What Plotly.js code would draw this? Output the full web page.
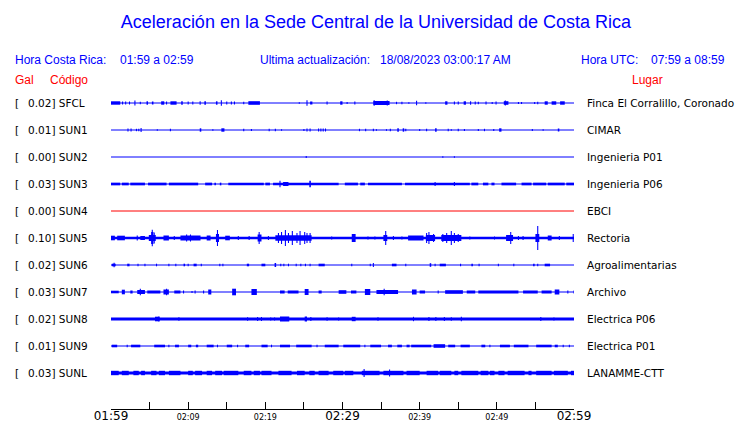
<!DOCTYPE html>
<html><head><meta charset="utf-8">
<script src="https://cdn.plot.ly/plotly-3.0.1.min.js"></script>
<style>html,body{margin:0;padding:0;background:#fff}#chart{width:740px;height:423px}</style>
</head><body><div id="chart"></div>
<script>
// ---------- data ----------
const codes = ['SFCL','SUN1','SUN2','SUN3','SUN4','SUN5','SUN6','SUN7','SUN8','SUN9','SUNL'];
const galMax = ['0.02','0.01','0.00','0.03','0.00','0.10','0.02','0.03','0.02','0.01','0.03'];
const places = ['Finca El Corralillo, Coronado','CIMAR','Ingenieria P01','Ingenieria P06','EBCI','Rectoria','Agroalimentarias','Archivo','Electrica P06','Electrica P01','LANAMME-CTT'];
const tickMinutes = [0,5,10,15,20,25,30,35,40,45,50,55,60];
const tickLabels = ['01:59','','02:09','','02:19','','02:29','','02:39','','02:49','','02:59'];
// background noise half-amplitude of each record (relative units)
const noise = [0.5,0.5,0.5,0.5,0.4,1.35,0.5,0.55,1.45,0.5,1.6];
// bursts: [start minute, end minute, half-amplitude]
const ev_SFCL = [[0,1.2,1.7],[1.5,1.5,1.5],[1.9,1.9,1.5],[2.4,2.4,1.5],[3.1,3.1,2.5],[3.8,3.8,1.2],[4.6,4.8,1.7],[5.3,5.5,1.5],[6.5,6.9,1.7],[7.2,7.2,1.5],[7.7,8.5,1.7],[9.1,9.3,1.7],[10.0,10.0,1.5],[10.6,10.6,1.5],[11.5,11.6,1.7],[12.1,12.3,1.7],[13.6,13.8,1.7],[14.3,14.3,2.7],[15.0,15.0,1.5],[15.6,15.6,1.5],[16.0,16.0,1.5],[17.2,17.2,1.2],[17.8,19.3,1.8],[24.4,24.4,0.7],[25.4,25.4,2.7],[25.8,26.1,1.5],[28.0,28.0,1.5],[29.7,30.0,1.7],[30.6,30.6,1.0],[31.6,31.6,1.5],[34.0,36.1,2.0],[34.1,34.1,2.8],[35.8,35.8,2.5],[37.0,37.0,1.2],[37.7,37.7,1.2],[38.6,38.6,0.8],[39.6,39.6,2.3],[40.8,40.8,0.8],[43.3,43.6,1.7],[44.5,44.5,1.5],[45.0,45.0,1.5],[45.7,46.0,1.7],[46.6,46.6,1.7],[47.2,47.2,1.5],[47.6,47.6,1.2],[48.6,48.6,1.5],[49.4,49.4,1.0],[49.9,49.9,1.5],[50.9,51.5,1.8],[51.1,51.1,2.5],[52.8,52.8,1.0],[53.2,53.2,1.0],[54.9,54.9,1.0],[55.3,55.3,1.3],[56.2,56.6,1.7],[57.1,57.7,1.7],[58.2,58.8,1.7]];
const ev_SUN1 = [[2.2,2.2,1.5],[2.6,2.6,1.5],[3.3,3.3,1.2],[3.6,3.6,1.2],[3.9,3.9,2.0],[6.0,6.0,0.8],[7.7,7.7,1.2],[11.5,11.7,1.7],[13.2,13.2,0.8],[14.3,14.7,1.7],[17.2,17.2,1.3],[18.2,18.2,1.0],[20.5,20.5,1.2],[21.3,21.3,1.2],[22.1,22.1,0.8],[25.0,25.0,1.0],[25.4,25.4,1.5],[25.8,25.8,1.5],[26.9,26.9,1.5],[27.2,27.2,1.5],[27.5,27.5,1.5],[27.8,27.8,1.5],[32.2,32.2,1.2],[33.0,33.0,1.2],[34.0,34.0,1.2],[34.4,34.4,0.8],[35.7,35.7,0.8],[36.2,36.2,1.2],[37.1,37.3,1.7],[37.8,38.0,1.7],[38.2,38.2,1.2],[40.0,40.0,1.0],[40.9,40.9,1.2],[42.0,42.2,1.7],[43.7,43.7,1.2],[44.1,44.1,0.8],[45.0,45.0,1.2],[45.8,45.8,1.0],[47.6,47.6,1.0],[48.4,48.4,1.2],[49.6,49.6,1.0],[50.3,50.6,1.7],[54.6,54.6,1.0],[56.0,56.0,0.8],[57.9,58.1,1.5]];
const ev_SUN2 = [[25.3,25.3,1.0],[43.0,43.0,0.7],[44.5,44.5,0.7]];
const ev_SUN3 = [[0,1.2,1.35],[1.4,2.3,1.35],[2.5,4.4,1.35],[4.8,7.2,1.35],[7.5,11.3,1.35],[12.2,13.1,1.35],[13.4,13.6,1.35],[14.1,14.3,1.35],[15.2,19.8,1.35],[20.0,20.6,1.35],[21.0,29.5,1.35],[21.9,21.9,3.3],[22.3,23.0,2.0],[25.7,25.9,3.3],[30.3,32.0,1.35],[32.3,32.9,1.35],[33.3,37.7,1.35],[38.1,46.5,1.35],[42.0,42.0,2.0],[44.5,44.5,2.0],[46.7,47.6,1.35],[48.2,48.9,1.35],[49.3,49.7,1.35],[50.6,52.5,1.35],[53.2,54.5,1.35],[54.7,56.4,1.35],[56.6,58.8,1.35],[59.0,60.0,1.35]];
const ev_SUN4 = [];
const ev_SUN5 = [[0,0.5,2.3],[0.8,1.8,2.3],[3.4,3.4,2.5],[3.8,4.4,2.0],[4.9,5.8,3.0],[5.2,5.5,6.0],[5.35,5.35,8.3],[5.6,5.6,5.5],[6.8,7.5,2.5],[8.2,8.2,2.0],[9.0,11.6,2.5],[9.8,9.8,3.5],[10.3,10.3,3.5],[12.4,12.9,2.5],[13.6,14.0,4.0],[13.8,13.8,8.0],[14.8,15.4,2.3],[16.5,16.5,2.0],[17.9,17.9,2.0],[19.0,19.5,3.5],[19.2,19.2,6.0],[20.4,20.4,2.0],[21.3,26.0,2.8],[21.7,21.7,5.0],[22.1,22.1,6.0],[22.6,22.6,8.0],[23.0,23.0,5.0],[23.5,23.5,7.0],[24.1,24.1,5.0],[24.5,24.5,7.0],[25.1,25.1,6.0],[25.4,25.4,5.0],[25.8,25.8,5.0],[28.6,28.6,1.5],[31.2,31.7,4.0],[33.3,33.3,1.5],[34.2,34.2,1.5],[35.3,35.8,3.0],[35.6,35.6,7.0],[36.6,36.6,2.0],[37.7,37.7,1.5],[38.5,40.5,2.5],[40.8,42.0,3.0],[40.9,40.9,5.0],[41.2,41.2,6.0],[41.8,41.8,4.0],[42.8,45.4,3.0],[43.0,43.0,4.0],[43.5,43.5,5.0],[44.1,44.1,7.0],[44.5,44.5,5.0],[45.0,45.0,4.0],[46.5,46.5,1.5],[49.7,49.7,1.5],[51.2,52.1,3.0],[51.8,51.8,6.0],[52.8,52.8,2.0],[53.4,53.4,2.0],[55.0,55.5,4.0],[55.3,55.3,12.0],[56.6,57.1,2.5],[58.1,58.1,2.0],[59.9,59.9,4.0]];
const ev_SUN6 = [[0.1,0.6,1.3],[0.4,0.4,2.3],[2.1,2.4,1.3],[3.5,3.5,1.3],[4.4,4.4,1.3],[5.9,5.9,1.3],[7.5,7.5,1.3],[8.4,8.4,1.3],[9.4,9.6,1.3],[10.0,10.0,1.3],[10.7,11.1,1.3],[11.7,11.7,1.3],[14.1,14.1,1.3],[14.5,14.5,1.3],[17.6,17.9,1.3],[19.5,20.0,1.3],[21.2,21.4,2.0],[22.0,22.0,1.3],[22.4,22.4,1.3],[23.0,23.0,1.3],[24.0,24.0,1.3],[24.6,24.6,1.3],[25.2,25.2,1.3],[25.8,25.8,1.3],[26.9,27.7,1.3],[31.2,31.2,1.3],[33.6,33.6,1.3],[34.0,34.0,2.0],[36.4,37.0,1.3],[38.2,38.2,1.3],[41.3,41.5,1.8],[42.0,42.0,1.3],[42.6,43.4,1.3],[45.3,45.3,1.3],[46.7,46.9,1.3],[47.7,47.7,1.3],[50.2,50.2,1.3],[52.2,52.2,1.3],[54.7,54.9,1.3],[55.3,55.3,1.3],[56.2,56.9,1.3]];
const ev_SUN7 = [[0,1.0,1.3],[1.4,1.8,2.3],[2.5,2.8,1.5],[3.4,4.4,2.0],[3.8,3.8,3.3],[4.7,6.4,1.5],[6.8,7.5,2.5],[7.2,7.2,3.3],[8.2,9.0,1.5],[9.4,9.4,1.5],[10.5,10.5,1.0],[10.9,10.9,1.5],[12.0,12.0,1.5],[12.6,13.0,2.5],[15.7,16.2,3.3],[18.2,18.9,3.0],[21.9,22.5,1.5],[22.9,24.3,1.5],[25.1,25.6,3.0],[26.9,27.3,1.5],[29.5,30.5,1.8],[31.1,31.8,1.5],[32.9,33.6,3.0],[34.4,37.2,2.0],[35.4,35.4,3.3],[39.0,39.6,2.5],[40.0,40.7,1.5],[42.4,42.4,1.5],[43.3,45.6,1.8],[46.1,47.2,1.5],[47.6,52.8,1.5],[53.4,55.3,1.5],[55.8,57.1,1.5],[57.5,58.1,2.5],[59.2,59.2,1.5],[60.0,60.0,1.5]];
const ev_SUN8 = [[5.7,6.3,2.3],[6.2,6.2,2.5],[8.8,8.8,1.7],[17.7,17.7,1.7],[19.0,19.0,2.0],[19.5,19.5,2.0],[20.7,20.7,1.5],[21.2,21.2,1.5],[21.9,23.1,2.5],[25.1,25.4,2.5],[25.9,25.9,2.0],[28.0,28.0,1.7],[29.5,29.5,1.5],[31.2,31.7,2.2],[34.6,34.6,1.7],[39.2,39.2,2.2],[41.2,41.2,2.0],[42.1,42.1,2.0],[43.2,43.2,2.0],[44.1,44.1,1.8],[45.4,45.4,2.3],[55.7,55.7,2.0],[57.4,57.4,1.5]];
const ev_SUN9 = [[0.1,0.8,1.3],[2.1,2.1,1.3],[2.6,3.8,1.3],[5.6,7.0,1.3],[7.5,7.5,1.3],[8.3,8.8,1.3],[10.0,10.4,1.3],[11.0,11.3,1.3],[12.4,13.3,1.3],[13.8,13.8,1.3],[15.0,15.7,1.3],[16.4,16.4,1.3],[17.4,17.9,1.3],[19.5,20.3,1.3],[20.8,20.8,1.3],[21.9,23.2,1.3],[24.0,26.0,1.3],[26.7,26.7,1.3],[27.7,29.5,1.3],[30.1,32.3,1.3],[32.9,32.9,1.3],[33.6,35.0,1.3],[35.9,36.4,1.3],[37.1,37.7,1.3],[38.3,38.7,1.3],[38.9,41.5,1.3],[41.8,43.3,1.8],[43.7,44.6,1.3],[45.3,46.5,1.3],[48.0,48.5,1.3],[49.1,49.1,1.3],[50.4,51.7,1.3],[52.2,54.1,1.3],[55.1,57.1,1.3],[57.5,57.9,1.3],[58.6,58.6,1.3],[59.4,59.4,1.3]];
const ev_SUNL = [[0,1.0,2.2],[1.4,2.3,2.2],[2.9,3.6,2.2],[3.9,4.4,2.2],[5.2,5.9,2.2],[6.2,7.0,2.2],[7.5,9.0,2.2],[10.0,10.6,2.2],[10.9,11.8,2.2],[12.4,13.1,2.2],[13.5,14.4,2.2],[14.6,16.5,2.2],[17.2,18.2,2.2],[18.5,19.3,2.2],[19.5,20.8,2.2],[21.7,23.4,2.2],[24.1,25.1,2.2],[25.7,26.4,2.2],[26.9,28.2,2.2],[28.8,30.1,2.2],[30.3,31.4,2.2],[32.5,34.8,2.2],[32.8,32.8,4.0],[35.3,37.9,2.2],[36.1,36.1,3.5],[38.3,40.0,2.2],[40.9,42.4,2.2],[42.6,44.1,2.2],[44.5,45.0,2.2],[45.4,47.6,2.2],[47.9,48.9,2.2],[49.1,49.7,2.2],[50.2,51.0,2.2],[51.4,53.6,2.2],[54.1,54.5,2.2],[55.1,57.1,2.2],[57.4,59.2,2.2],[59.6,60.0,2.2]];

// ---------- build ----------
const events = [ev_SFCL,ev_SUN1,ev_SUN2,ev_SUN3,ev_SUN4,ev_SUN5,ev_SUN6,ev_SUN7,ev_SUN8,ev_SUN9,ev_SUNL];
const BLUE = '#0000ff', RED = '#ff0000';
const colors = codes.map(c => c === 'SUN4' ? RED : BLUE);
const AMP = 1/27;          // amplitude unit -> row units
const L = 111, R = 166, T = 90, B = 14, W = 740 - L - R, H = 423 - T - B;
const px2x = px => (px - L) / W;
const py2y = py => (423 - B - py) / H;

const data = [];
codes.forEach((c, i) => {
  const row = -i;
  data.push({type:'scatter', mode:'lines', x:[0,60], y:[row,row],
    line:{color:colors[i], width:Math.max(1, 2*noise[i])}, hoverinfo:'skip', showlegend:false});
  const ev = events[i];
  if (ev.length) {
    data.push({type:'bar', orientation:'v',
      x: ev.map(e => (e[0]+e[1])/2),
      width: ev.map(e => Math.max(e[1]-e[0], 0.14)),
      base: ev.map(e => row - e[2]*AMP),
      y: ev.map(e => 2*e[2]*AMP),
      marker:{color:colors[i], line:{width:0}}, hoverinfo:'skip', showlegend:false});
  }
});

const sans = 'DejaVu Sans, sans-serif';
const arial = 'Liberation Sans, Arial, sans-serif';
const LBL = 10.5;
const ann = [];
codes.forEach((c, i) => {
  ann.push({xref:'paper', yref:'y', x:px2x(14), y:-i, xanchor:'left', yanchor:'middle', text:'[', showarrow:false, borderpad:0, font:{family:sans, size:LBL, color:'#000'}});
  ann.push({xref:'paper', yref:'y', x:px2x(26.5), y:-i, xanchor:'left', yanchor:'middle', text:galMax[i] + '] ' + c, showarrow:false, borderpad:0, font:{family:sans, size:LBL, color:'#000'}});
  ann.push({xref:'paper', yref:'y', x:px2x(586), y:-i, xanchor:'left', yanchor:'middle', text:places[i], showarrow:false, borderpad:0, font:{family:sans, size:LBL, color:'#000'}});
});
const hdr = (px, py, text, color) => ({xref:'paper', yref:'paper', x:px2x(px), y:py2y(py), xanchor:'left', yanchor:'middle', text, showarrow:false, borderpad:0, font:{family:arial, size:12, color}});
ann.push(hdr(14, 60.5, 'Hora Costa Rica:', BLUE));
ann.push(hdr(119, 60.5, '01:59 a 02:59', BLUE));
ann.push(hdr(259, 60.5, 'Ultima actualización:', BLUE));
ann.push(hdr(379, 60.5, '18/08/2023 03:00:17 AM', BLUE));
ann.push(hdr(580, 60.5, 'Hora UTC:', BLUE));
ann.push(hdr(650, 60.5, '07:59 a 08:59', BLUE));
ann.push(hdr(14, 80, 'Gal', RED));
ann.push(hdr(49, 80, 'Código', RED));
ann.push(hdr(631, 80, 'Lugar', RED));

const tickText = tickLabels.map((t, k) => (k === 0 || k === 6 || k === 12) ? t : (t ? '<span style="font-size:8px">' + t + '</span>' : ''));

const layout = {
  width:740, height:423,
  margin:{l:L, r:R, t:T, b:B, pad:0},
  paper_bgcolor:'#fff', plot_bgcolor:'#fff',
  showlegend:false, hovermode:false, barmode:'overlay',
  title:{text:'Aceleración en la Sede Central de la Universidad de Costa Rica',
    font:{family:arial, size:18, color:BLUE}, xref:'container', x:376/740, xanchor:'center',
    yref:'container', y:1-22/423, yanchor:'middle'},
  xaxis:{range:[0,60], tickmode:'array', tickvals:tickMinutes, ticktext:tickText,
    ticks:'inside', ticklen:7, tickwidth:1, tickcolor:'#000', showline:true, linecolor:'#000', linewidth:1,
    ticklabelstandoff:-4,
    showgrid:false, zeroline:false, tickfont:{family:sans, size:12, color:'#000'}, fixedrange:true},
  yaxis:{range:[-11.3333, 13/27], visible:false, fixedrange:true},
  annotations:ann
};
Plotly.newPlot('chart', data, layout, {displayModeBar:false, staticPlot:true});
</script>
</body></html>
